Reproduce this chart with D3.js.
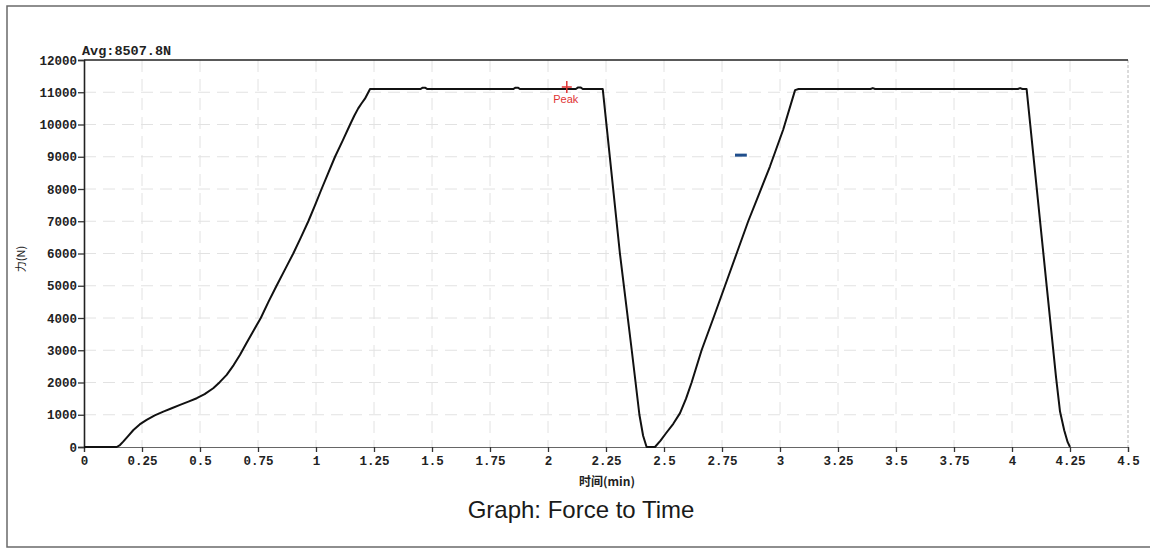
<!DOCTYPE html>
<html>
<head>
<meta charset="utf-8">
<script src="https://cdn.jsdelivr.net/npm/d3@7"></script>
<style>
  html, body { margin: 0; padding: 0; background: #fff; overflow: hidden; }
  svg { display: block; }
</style>
</head>
<body>
<svg id="chart" width="1150" height="550"></svg>
<script>
// ---- data ----
const timeMin = [0, 0.141, 0.155, 0.169, 0.19, 0.213, 0.24, 0.27, 0.305, 0.342, 0.378, 0.414, 0.45, 0.486, 0.52, 0.557, 0.585, 0.615, 0.645, 0.672, 0.70, 0.73, 0.762, 0.795, 0.830, 0.866, 0.902, 0.935, 0.967, 0.996, 1.024, 1.053, 1.082, 1.115, 1.147, 1.165, 1.182, 1.196, 1.211, 1.233,
  1.45, 1.46, 1.47, 1.48, 1.85, 1.86, 1.87, 1.88, 2.12, 2.13, 2.14, 2.15, 2.236,
  2.31, 2.361, 2.394, 2.41, 2.425, 2.461, 2.485, 2.511, 2.54, 2.569, 2.595, 2.619, 2.662, 2.713, 2.763, 2.813, 2.863, 2.91, 2.957, 3.014, 3.065, 3.08,
  3.39, 3.40, 3.41, 4.025, 4.035, 4.045, 4.063,
  4.149, 4.19, 4.207, 4.225, 4.24, 4.25];
const forceN = [0, 0, 60, 165, 340, 528, 700, 840, 980, 1096, 1200, 1304, 1405, 1512, 1640, 1822, 2010, 2236, 2540, 2850, 3220, 3600, 4000, 4500, 5000, 5500, 6000, 6500, 7000, 7500, 8000, 8500, 9000, 9500, 10000, 10270, 10500, 10650, 10800, 11100,
  11100, 11140, 11140, 11100, 11100, 11140, 11140, 11100, 11100, 11150, 11150, 11100, 11100,
  6000, 3000, 1000, 350, 0, 0, 200, 450, 720, 1050, 1500, 2000, 3000, 4000, 5000, 6000, 7000, 7850, 8705, 9845, 11065, 11100,
  11100, 11130, 11100, 11100, 11130, 11100, 11100,
  5030, 2150, 1100, 520, 150, 0];
const xTicks = [0, 0.25, 0.5, 0.75, 1, 1.25, 1.5, 1.75, 2, 2.25, 2.5, 2.75, 3, 3.25, 3.5, 3.75, 4, 4.25, 4.5];
const yTicks = [0, 1000, 2000, 3000, 4000, 5000, 6000, 7000, 8000, 9000, 10000, 11000, 12000];
const peakPoint = [2.081, 11160];
const dashSegment = [[2.806, 9050], [2.857, 9050]];
const avgText = "Avg:8507.8N";
const titleText = "Graph: Force to Time";
const xLabel = "时间(min)";
const yLabel = "力(N)";

// ---- drawing ----
const svg = d3.select("#chart");
const x = d3.scaleLinear().domain([0, 4.5]).range([84, 1128]);
const y = d3.scaleLinear().domain([0, 12000]).range([447, 60]);
const monoFont = "'Liberation Mono', 'DejaVu Sans Mono', monospace";

// outer frame (no right side)
svg.append("path")
  .attr("d", "M1150,6 H7 V547 H1150")
  .attr("fill", "none").attr("stroke", "#6a6a6a").attr("stroke-width", 1.5);

// grid
const grid = svg.append("g").attr("stroke", "#e2e2e2").attr("stroke-width", 1).attr("stroke-dasharray", "12,7");
grid.selectAll("line.h").data(yTicks.slice(1, -1)).join("line")
  .attr("x1", x(0)).attr("x2", x(4.5)).attr("y1", d => y(d)).attr("y2", d => y(d));
grid.selectAll("line.v").data(xTicks.slice(1, -1)).join("line")
  .attr("y1", y(12000)).attr("y2", y(0)).attr("x1", d => x(d)).attr("x2", d => x(d));

// right edge (dashed)
svg.append("line").attr("x1", x(4.5)).attr("x2", x(4.5)).attr("y1", y(12000)).attr("y2", y(0))
  .attr("stroke", "#b8b8b8").attr("stroke-dasharray", "3,2");
// top edge
svg.append("line").attr("x1", x(0)).attr("x2", x(4.5)).attr("y1", y(12000)).attr("y2", y(12000))
  .attr("stroke", "#222").attr("stroke-width", 1.6);

// axes
const xAxis = d3.axisBottom(x).tickValues(xTicks).tickSize(5).tickPadding(4).tickFormat(d3.format("~g"));
const gx = svg.append("g").attr("transform", `translate(0,${y(0)})`).call(xAxis);
gx.attr("font-family", monoFont).attr("font-size", 12.5);
gx.select(".domain").attr("stroke", "#666").attr("stroke-width", 1.2);
gx.selectAll(".tick line").attr("stroke", "#333").attr("stroke-width", 1.3);
gx.selectAll(".tick text").attr("font-weight", "bold").attr("fill", "#222");

const yAxis = d3.axisLeft(y).tickValues(yTicks).tickSize(6).tickPadding(1).tickFormat(d3.format("d"));
const gy = svg.append("g").attr("transform", `translate(${x(0)},0)`).call(yAxis);
gy.attr("font-family", monoFont).attr("font-size", 12.5);
gy.select(".domain").attr("stroke", "#222").attr("stroke-width", 1.6);
gy.selectAll(".tick line").attr("stroke", "#333").attr("stroke-width", 1.3);
gy.selectAll(".tick text").attr("font-weight", "bold").attr("fill", "#222");

// curve
const pts = timeMin.map((t, i) => [t, forceN[i]]);
svg.append("path").datum(pts)
  .attr("fill", "none").attr("stroke", "#111").attr("stroke-width", 2).attr("stroke-linejoin", "round")
  .attr("d", d3.line().x(d => x(d[0])).y(d => y(d[1])));

// peak marker
const px = x(peakPoint[0]), py = y(peakPoint[1]);
svg.append("path").attr("d", `M${px - 5},${py} H${px + 5} M${px},${py - 6} V${py + 6}`)
  .attr("stroke", "#e03333").attr("stroke-width", 1.5).attr("fill", "none");
svg.append("text").attr("x", px - 1).attr("y", py + 16).attr("text-anchor", "middle")
  .attr("font-family", "'Liberation Sans', Arial, sans-serif").attr("font-size", 11)
  .attr("fill", "#e03333").text("Peak");

// blue dash
svg.append("path").datum(dashSegment)
  .attr("d", d3.line().x(d => x(d[0])).y(d => y(d[1])))
  .attr("stroke", "#1f4e8c").attr("stroke-width", 3).attr("fill", "none");

// texts
svg.append("text").attr("x", 82).attr("y", 55)
  .attr("font-family", monoFont).attr("font-size", 13.5).attr("font-weight", "bold").attr("fill", "#222")
  .text(avgText);
svg.append("text").attr("x", 607).attr("y", 486).attr("text-anchor", "middle")
  .attr("font-family", "'Noto Sans CJK SC', sans-serif").attr("font-size", 12).attr("font-weight", "bold").attr("fill", "#222")
  .text(xLabel);
svg.append("text").attr("transform", "translate(25,259) rotate(-90)").attr("text-anchor", "middle")
  .attr("font-family", "'Noto Sans CJK SC', sans-serif").attr("font-size", 11).attr("fill", "#222")
  .text(yLabel);
svg.append("text").attr("x", 581).attr("y", 518).attr("text-anchor", "middle")
  .attr("font-family", "'Liberation Sans', Arial, sans-serif").attr("font-size", 24).attr("fill", "#1a1a1a")
  .text(titleText);
</script>
</body>
</html>
